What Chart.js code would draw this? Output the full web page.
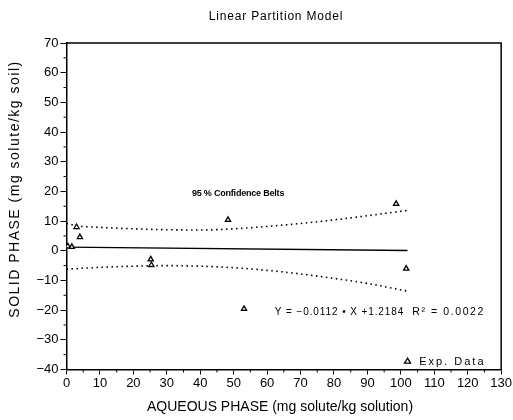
<!DOCTYPE html>
<html>
<head>
<meta charset="utf-8">
<script src="https://cdn.jsdelivr.net/npm/chart.js@4.4.1/dist/chart.umd.min.js"></script>
<style>
  html, body { margin: 0; padding: 0; background: #fff; }
  #wrap { width: 513px; height: 420px; position: relative; }
</style>
</head>
<body>
<div id="wrap"><canvas id="chart" width="513" height="420"></canvas></div>
<script>
// experimental points (aqueous, solid)
const expX = [0.4, 1.6, 3.0, 4.0, 25.2, 25.4, 48.3, 53.1, 98.6, 101.6];
const expY = [1.5, 1.3, 8.0, 4.6, -2.9, -4.8, 10.4, -19.6, 15.8, -6.0];

// fitted line Y = -0.0112 X + 1.2184
const fitX = [0, 102];
const fitY = [1.22, 0.08];

// 95 % confidence belts
const beltX = [0, 3, 10, 20, 30, 40, 50, 60, 70, 80, 90, 102];
const upperY = [9.3, 8.4, 7.9, 7.4, 7.1, 7.0, 7.4, 8.2, 9.2, 10.4, 11.8, 13.6];
const lowerY = [-6.2, -6.0, -5.6, -5.2, -5.0, -5.2, -5.7, -6.6, -7.8, -9.3, -11.0, -13.6];

const xTicks = [0, 10, 20, 30, 40, 50, 60, 70, 80, 90, 100, 110, 120, 130];
const yTicks = [-40, -30, -20, -10, 0, 10, 20, 30, 40, 50, 60, 70];

const font = "'Liberation Sans', Arial, sans-serif";

function pts(xs, ys) {
  return xs.map((x, i) => ({ x: x, y: ys[i] }));
}

function label(ctx, text, x, y, css, spacing) {
  ctx.font = css;
  ctx.letterSpacing = (spacing || 0) + 'px';
  ctx.fillText(text, x, y);
  ctx.letterSpacing = '0px';
}

const decor = {
  id: 'decor',
  afterDraw(chart) {
    const ctx = chart.ctx;
    const a = chart.chartArea;
    const xs = chart.scales.x, ys = chart.scales.y;
    ctx.save();
    ctx.strokeStyle = '#000';
    ctx.lineWidth = 1.5;
    // frame top and right
    ctx.beginPath();
    ctx.moveTo(a.left, a.top);
    ctx.lineTo(a.right, a.top);
    ctx.lineTo(a.right, a.bottom);
    ctx.stroke();
    // minor ticks
    ctx.lineWidth = 1;
    ctx.beginPath();
    for (let v = 5; v < 130; v += 10) {
      const px = xs.getPixelForValue(v);
      ctx.moveTo(px, a.bottom);
      ctx.lineTo(px, a.bottom + 3);
    }
    for (let v = -35; v < 70; v += 10) {
      const py = ys.getPixelForValue(v);
      ctx.moveTo(a.left, py);
      ctx.lineTo(a.left - 3, py);
    }
    ctx.stroke();

    ctx.fillStyle = '#000';
    ctx.textBaseline = 'middle';
    // title
    ctx.textAlign = 'center';
    label(ctx, 'Linear Partition Model', 276, 17, '12px ' + font, 0.8);
    // axis titles
    label(ctx, 'AQUEOUS PHASE (mg solute/kg solution)', 280, 407, '14px ' + font, 0);
    ctx.save();
    ctx.translate(15, 189);
    ctx.rotate(-Math.PI / 2);
    label(ctx, 'SOLID PHASE (mg solute/kg soil)', 0, 0, '14px ' + font, 1.5);
    ctx.restore();

    // annotations
    ctx.textAlign = 'left';
    label(ctx, '95 % Confidence Belts', xs.getPixelForValue(37.5), ys.getPixelForValue(19.2), '600 9px ' + font, -0.2);
    label(ctx, 'Y = \u22120.0112 \u2022 X +1.2184', xs.getPixelForValue(62.3), ys.getPixelForValue(-20.6), '10px ' + font, 0.9);
    label(ctx, 'R\u00B2 = 0.0022', xs.getPixelForValue(103.4), ys.getPixelForValue(-20.6), '10.5px ' + font, 1.6);
    label(ctx, 'Exp. Data', xs.getPixelForValue(105.5), ys.getPixelForValue(-37.4), '11px ' + font, 2);
    // legend marker
    const lx = xs.getPixelForValue(102.0), ly = ys.getPixelForValue(-37.2);
    ctx.lineWidth = 1.3;
    ctx.beginPath();
    ctx.moveTo(lx, ly - 3);
    ctx.lineTo(lx + 3, ly + 2);
    ctx.lineTo(lx - 3, ly + 2);
    ctx.closePath();
    ctx.stroke();
    ctx.restore();
  }
};

new Chart(document.getElementById('chart'), {
  type: 'scatter',
  data: {
    datasets: [
      {
        label: 'Exp. Data',
        data: pts(expX, expY),
        pointStyle: 'triangle',
        pointRadius: 3,
        pointBorderWidth: 1.3,
        pointBorderColor: '#000',
        pointBackgroundColor: '#fff',
        showLine: false
      },
      {
        label: 'fit',
        data: pts(fitX, fitY),
        showLine: true,
        borderColor: '#000',
        borderWidth: 1.4,
        pointRadius: 0
      },
      {
        label: 'upper',
        data: pts(beltX, upperY),
        showLine: true,
        cubicInterpolationMode: 'monotone',
        borderColor: '#000',
        borderWidth: 1.6,
        borderDash: [1.5, 3.5],
        pointRadius: 0
      },
      {
        label: 'lower',
        data: pts(beltX, lowerY),
        showLine: true,
        cubicInterpolationMode: 'monotone',
        borderColor: '#000',
        borderWidth: 1.6,
        borderDash: [1.5, 3.5],
        pointRadius: 0
      }
    ]
  },
  options: {
    responsive: false,
    animation: false,
    layout: { padding: { top: 43, right: 11, left: 0, bottom: 0 } },
    plugins: {
      legend: { display: false },
      tooltip: { enabled: false }
    },
    scales: {
      x: {
        type: 'linear',
        min: 0,
        max: 130,
        afterBuildTicks: (s) => { s.ticks = xTicks.map(v => ({ value: v })); },
        afterFit: (s) => { s.height = 50.5; },
        border: { color: '#000', width: 1.5 },
        grid: { drawOnChartArea: false, tickLength: 5, color: '#000', tickColor: '#000' },
        ticks: { color: '#000', font: { family: font, size: 13 }, padding: 1, maxRotation: 0 }
      },
      y: {
        type: 'linear',
        min: -40,
        max: 70,
        afterBuildTicks: (s) => { s.ticks = yTicks.map(v => ({ value: v })); },
        afterFit: (s) => { s.width = 66.5; },
        border: { color: '#000', width: 1.5 },
        grid: { drawOnChartArea: false, tickLength: 6, color: '#000', tickColor: '#000' },
        ticks: {
          color: '#000',
          font: { family: font, size: 13 },
          padding: 2,
          callback: (v) => (v < 0 ? '\u2212' + Math.abs(v) : String(v))
        }
      }
    }
  },
  plugins: [decor]
});
</script>
</body>
</html>
